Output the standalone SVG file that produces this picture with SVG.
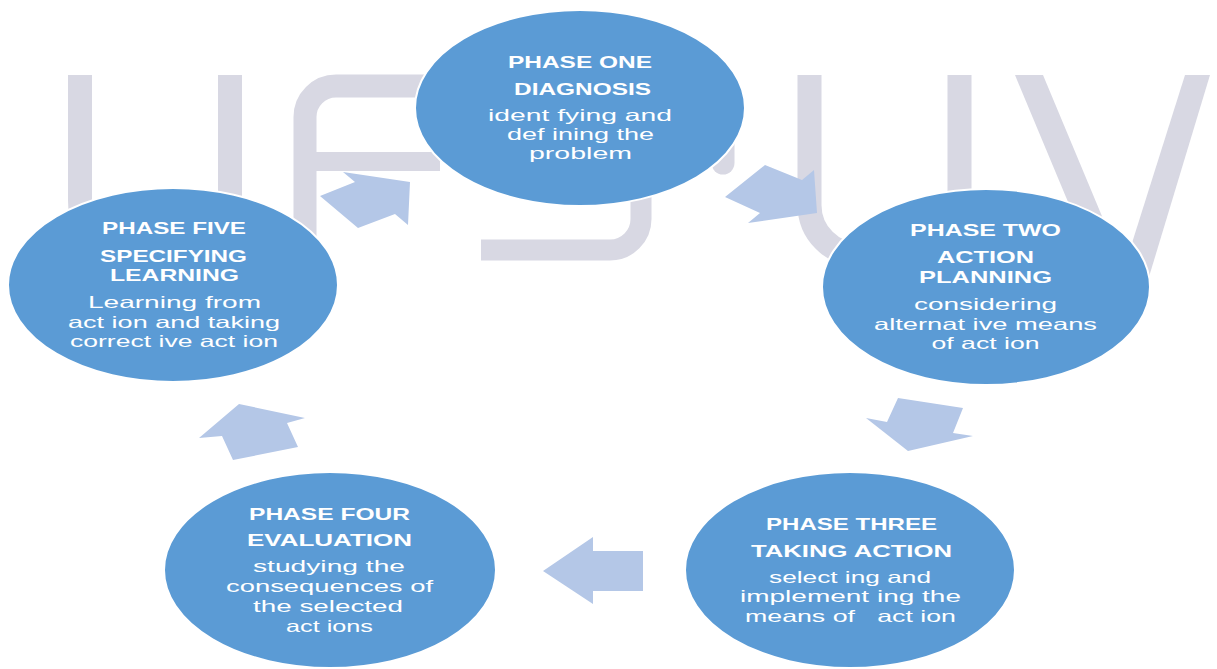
<svg xmlns="http://www.w3.org/2000/svg" width="1217" height="669" viewBox="0 0 1217 669">
<style>
.wm{fill:none;stroke:#D8D8E3;}
.wmf{fill:#D8D8E3;}
.arr{fill:#B4C7E7;}
.node{fill:#5B9BD5;stroke:#FFFFFF;stroke-width:2;}
.h{font-family:"Liberation Sans",Arial,sans-serif;font-weight:bold;font-size:16.5px;fill:#FFFFFF;text-anchor:middle;}
.b{font-family:"Liberation Sans",Arial,sans-serif;font-size:16.5px;fill:#FFFFFF;text-anchor:middle;}
</style>
<rect x="0" y="0" width="1217" height="669" fill="#FFFFFF"/>
<g id="watermark">
  <path class="wm" stroke-width="24" d="M80,75 V200 Q80,262 155,262 Q230,262 230,200 V75"/>
  <path class="wm" stroke-width="23" d="M305,265 V117 A31,31 0 0 1 336,86 H450"/>
  <rect class="wmf" x="305" y="152" width="135" height="19"/>
  <path class="wm" stroke-width="21" d="M481,250 H610 A31,31 0 0 0 641,219 V170"/>
  <path class="wm" stroke-width="23" stroke-linecap="round" d="M723,120 V163"/>
  <path class="wm" stroke-width="24" d="M809.5,75 V205 A50,50 0 0 0 859.5,255 H909.5 A50,50 0 0 0 959.5,205 V75"/>
  <polygon class="wmf" points="1015,75 1043,75 1137,300 1109,300"/>
  <polygon class="wmf" points="1185,75 1210,75 1142,300 1114,300"/>
</g>
<g id="connectors">
  <polygon class="arr" points="343,172 410,182 408,225 395,214 358,228 320,196 355,182"/>
  <polygon class="arr" points="765,165 802,180 814,170 817,213 748,223 760,213 725,197"/>
  <polygon class="arr" points="898,398 963,408 953,433 973,436 908,451 866,418 887,422"/>
  <polygon class="arr" points="543,571 593,537 593,551 643,551 643,591 593,591 593,604"/>
  <polygon class="arr" points="239,404 305,418 287,423 298,447 233,460 222,436 199,438"/>
</g>
<g id="phase1">
  <ellipse class="node" cx="580" cy="108" rx="165" ry="98"/>
  <text class="h" x="580" y="68" textLength="144" lengthAdjust="spacingAndGlyphs">PHASE ONE</text>
  <text class="h" x="582.5" y="95" textLength="137" lengthAdjust="spacingAndGlyphs">DIAGNOSIS</text>
  <text class="b" x="580" y="121" textLength="184" lengthAdjust="spacingAndGlyphs">ident fying and</text>
  <text class="b" x="580.5" y="140" textLength="147" lengthAdjust="spacingAndGlyphs">def ining the</text>
  <text class="b" x="580.5" y="159" textLength="103" lengthAdjust="spacingAndGlyphs">problem</text>
</g>
<g id="phase2">
  <ellipse class="node" cx="986" cy="287" rx="164" ry="98"/>
  <text class="h" x="985.5" y="236" textLength="151" lengthAdjust="spacingAndGlyphs">PHASE TWO</text>
  <text class="h" x="985.5" y="263" textLength="97" lengthAdjust="spacingAndGlyphs">ACTION</text>
  <text class="h" x="985.5" y="283" textLength="133" lengthAdjust="spacingAndGlyphs">PLANNING</text>
  <text class="b" x="985.5" y="310" textLength="143" lengthAdjust="spacingAndGlyphs">considering</text>
  <text class="b" x="985.5" y="329.5" textLength="223" lengthAdjust="spacingAndGlyphs">alternat ive means</text>
  <text class="b" x="985.5" y="349" textLength="108" lengthAdjust="spacingAndGlyphs">of act ion</text>
</g>
<g id="phase3">
  <ellipse class="node" cx="850" cy="570" rx="165" ry="98"/>
  <text class="h" x="851.5" y="530" textLength="171" lengthAdjust="spacingAndGlyphs">PHASE THREE</text>
  <text class="h" x="851.5" y="557" textLength="201" lengthAdjust="spacingAndGlyphs">TAKING ACTION</text>
  <text class="b" x="850" y="583" textLength="162" lengthAdjust="spacingAndGlyphs">select ing and</text>
  <text class="b" x="850.5" y="602" textLength="221" lengthAdjust="spacingAndGlyphs">implement ing the</text>
  <text class="b" x="850.5" y="622" textLength="211" lengthAdjust="spacingAndGlyphs" xml:space="preserve">means of   act ion</text>
</g>
<g id="phase4">
  <ellipse class="node" cx="330" cy="570" rx="166" ry="98"/>
  <text class="h" x="329.5" y="520" textLength="161" lengthAdjust="spacingAndGlyphs">PHASE FOUR</text>
  <text class="h" x="329.5" y="546" textLength="165" lengthAdjust="spacingAndGlyphs">EVALUATION</text>
  <text class="b" x="329" y="572" textLength="152" lengthAdjust="spacingAndGlyphs">studying the</text>
  <text class="b" x="329.5" y="592" textLength="207" lengthAdjust="spacingAndGlyphs">consequences of</text>
  <text class="b" x="328" y="612" textLength="150" lengthAdjust="spacingAndGlyphs">the selected</text>
  <text class="b" x="329.5" y="632" textLength="87" lengthAdjust="spacingAndGlyphs">act ions</text>
</g>
<g id="phase5">
  <ellipse class="node" cx="173" cy="285" rx="165" ry="97"/>
  <text class="h" x="174" y="234" textLength="144" lengthAdjust="spacingAndGlyphs">PHASE FIVE</text>
  <text class="h" x="173.5" y="262" textLength="147" lengthAdjust="spacingAndGlyphs">SPECIFYING</text>
  <text class="h" x="174.5" y="281" textLength="129" lengthAdjust="spacingAndGlyphs">LEARNING</text>
  <text class="b" x="174.5" y="308" textLength="173" lengthAdjust="spacingAndGlyphs">Learning from</text>
  <text class="b" x="174" y="328" textLength="212" lengthAdjust="spacingAndGlyphs">act ion and taking</text>
  <text class="b" x="174" y="347" textLength="208" lengthAdjust="spacingAndGlyphs">correct ive act ion</text>
</g>
</svg>
